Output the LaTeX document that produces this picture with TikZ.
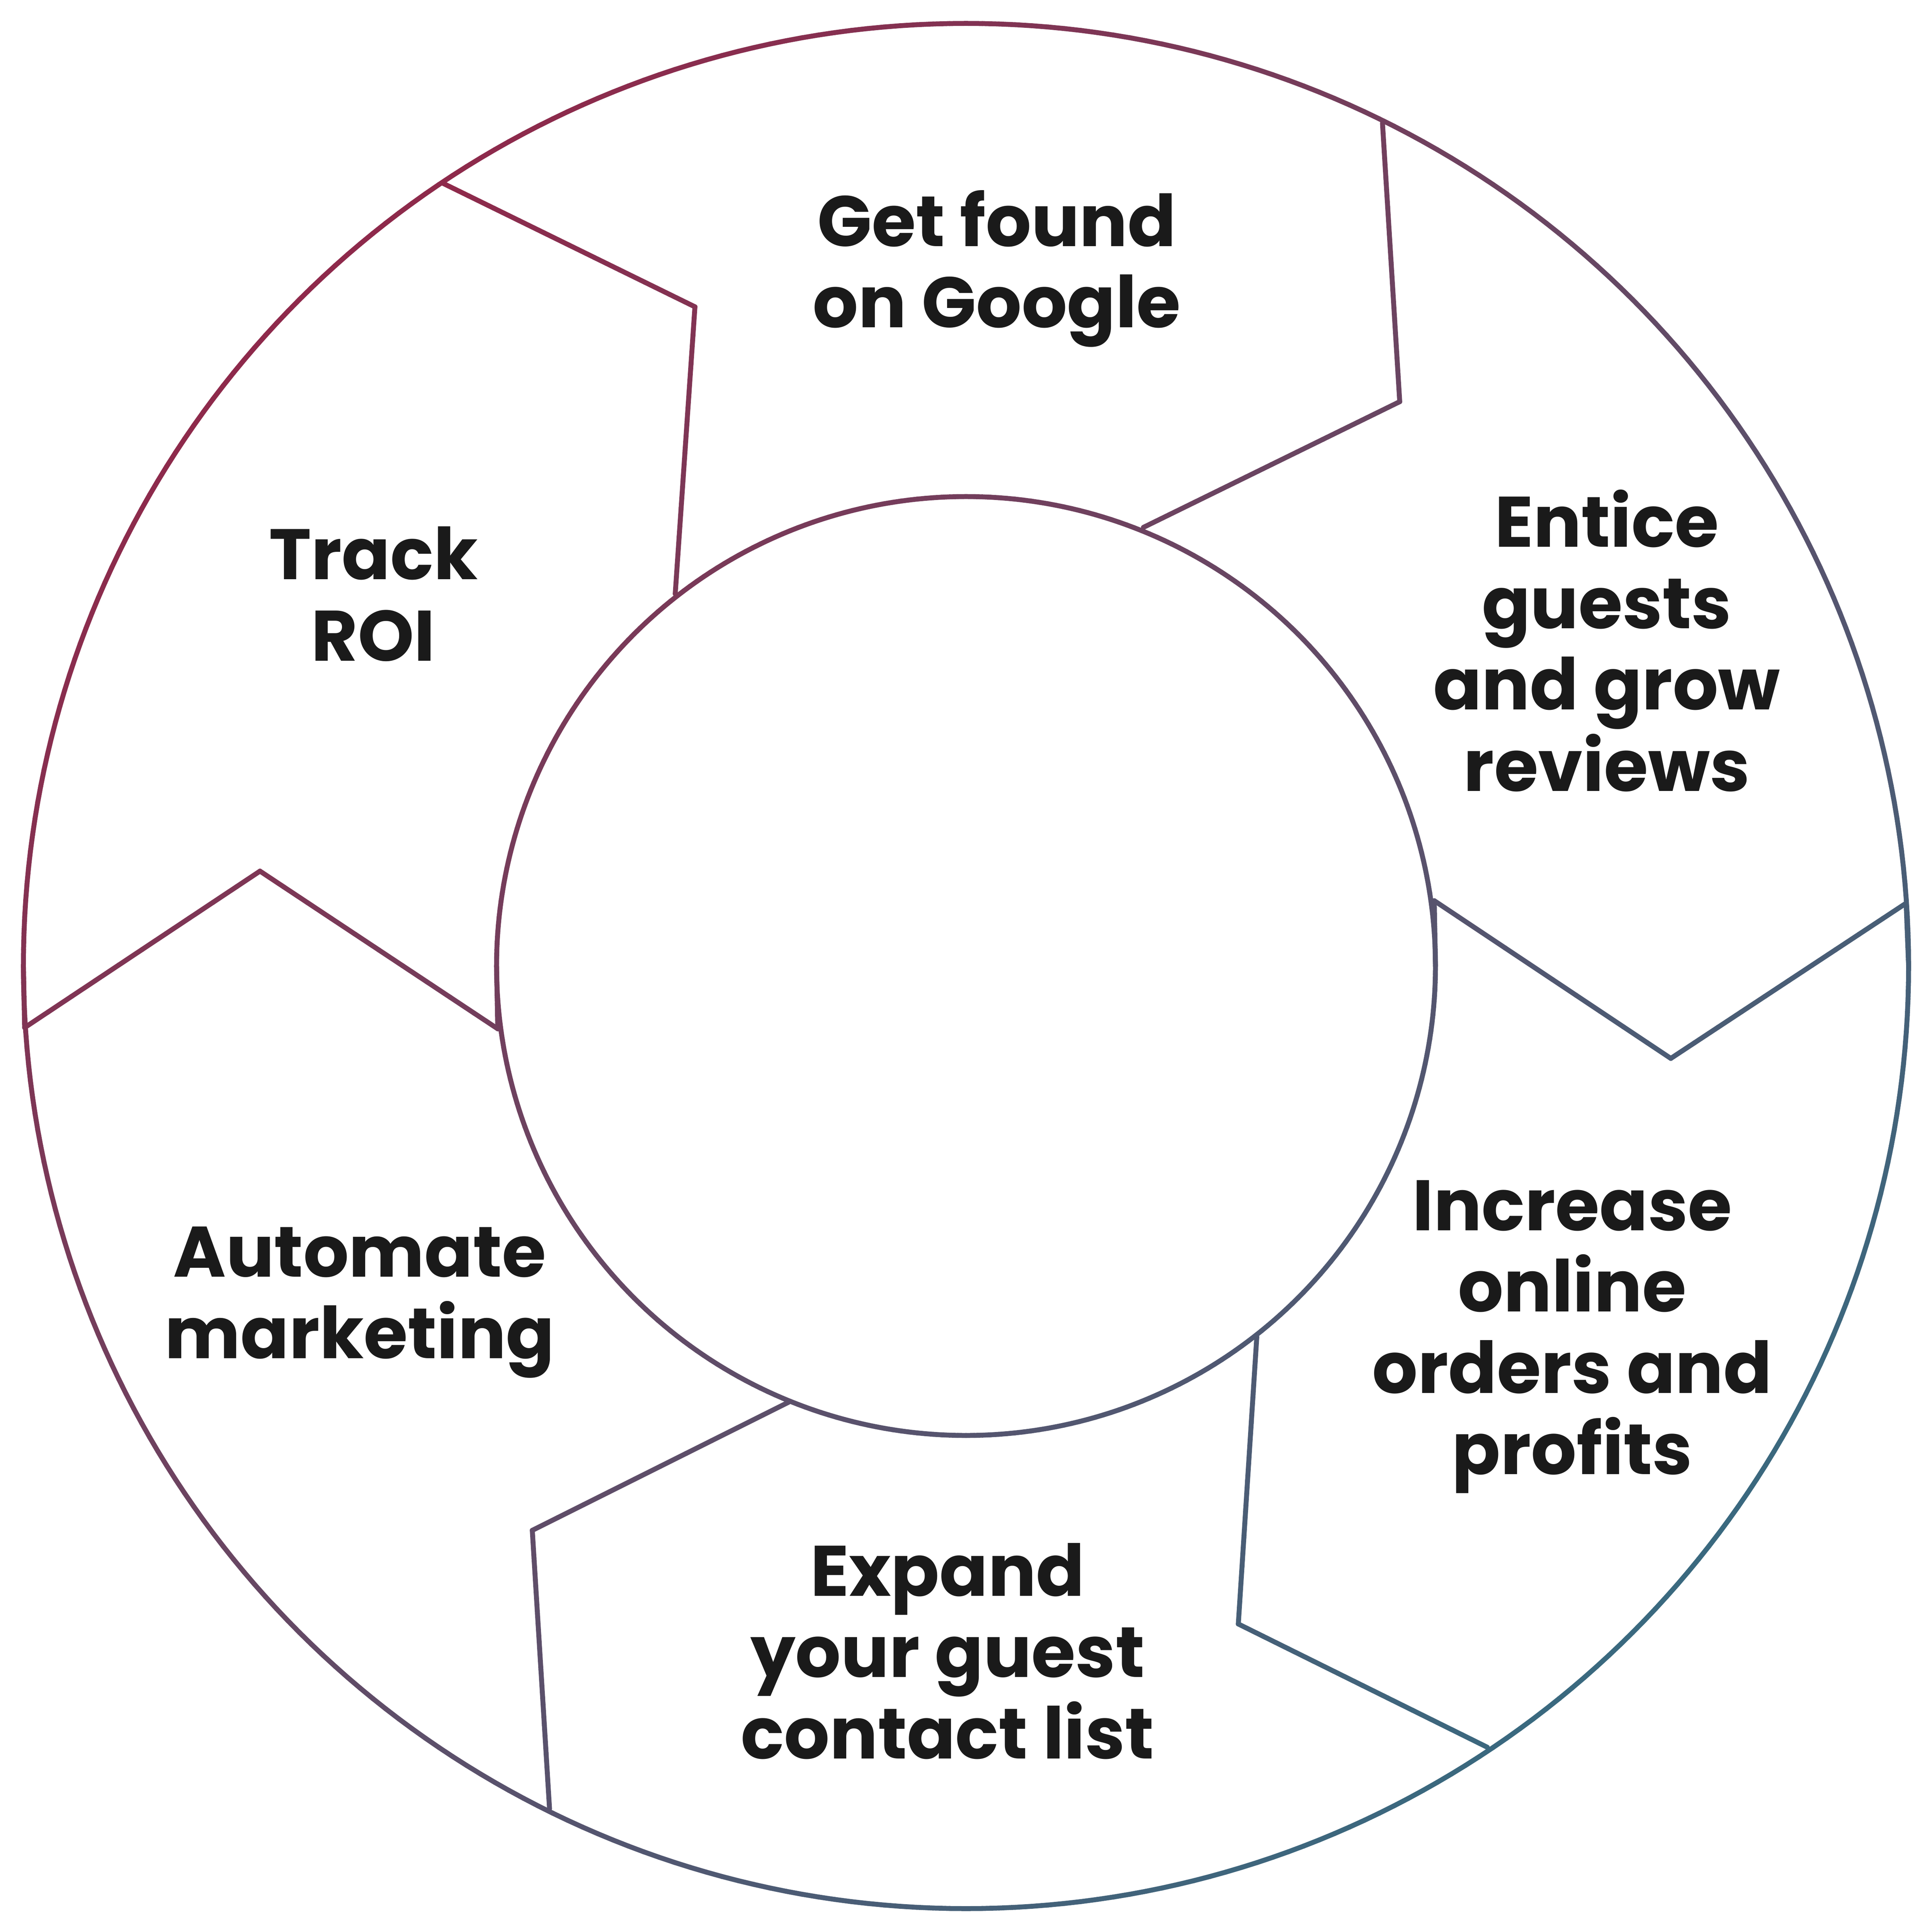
\documentclass[tikz,border=0pt]{standalone}
\usepackage{fontspec}
\setmainfont{Poppins}
\definecolor{cA}{RGB}{160,28,64}
\definecolor{cB}{RGB}{40,118,138}
\definecolor{txt}{RGB}{26,26,26}
\newcommand\tpar[2]{\pgfmathsetmacro\tt{max(0,min(100,(#1+#2-38)/30.6))}}
\newcommand\gseg[4]{%
 \foreach \i in {0,...,9}{%
  \pgfmathsetmacro\xa{#1+(#3-#1)*\i/10}\pgfmathsetmacro\ya{#2+(#4-#2)*\i/10}%
  \pgfmathsetmacro\xb{#1+(#3-#1)*(\i+1)/10}\pgfmathsetmacro\yb{#2+(#4-#2)*(\i+1)/10}%
  \tpar{\xa}{\ya}%
  \draw[ln, cB!\tt!cA] (\xa,\ya) -- (\xb,\yb);}}
\newcommand\gcirc[1]{%
 \foreach \a in {0,...,359}{%
  \pgfmathsetmacro\xa{784+#1*cos(\a)}\pgfmathsetmacro\ya{784+#1*sin(\a)}%
  \pgfmathsetmacro\xb{784+#1*cos(\a+1)}\pgfmathsetmacro\yb{784+#1*sin(\a+1)}%
  \tpar{\xa}{\ya}%
  \draw[ln, cB!\tt!cA] (\xa,\ya) -- (\xb,\yb);}}
\begin{document}
\begin{tikzpicture}[x=1pt,y=-1pt,
 ln/.style={line width=4pt,line cap=round,line join=round},
 lbl/.style={align=center,text=txt,font=\bfseries\fontsize{58}{66}\selectfont}]
\useasboundingbox (0,0) rectangle (1568,1568);
\fill[white] (0,0) rectangle (1568,1568);
\gcirc{765}
\gcirc{381}
% boundaries
\gseg{360}{149}{564}{249}\gseg{564}{249}{548}{482}
\gseg{1122}{100}{1136}{326}\gseg{1136}{326}{928}{428}
\gseg{1547}{733}{1356}{859}\gseg{1356}{859}{1164}{731}
\gseg{1164}{731}{1165}{784}\gseg{1547}{733}{1549}{784}
\gseg{1020}{1085}{1005}{1318}\gseg{1005}{1318}{1207}{1418}
\gseg{640}{1138}{432}{1242}\gseg{432}{1242}{446}{1468}
\gseg{20}{834}{211}{707}\gseg{211}{707}{404}{835}
\gseg{20}{834}{19}{784}\gseg{404}{835}{403}{784}
\node[lbl] (t1) at (809,218) {Get found\\on Google};
\node[lbl] (t2) at (1304,520) {Entice\\guests\\and grow\\reviews};
\node[lbl] (t3) at (1276,1085) {Increase\\online\\orders and\\profits};
\node[lbl] (t4) at (769,1340) {Expand\\your guest\\contact list};
\node[lbl] (t5) at (292,1057) {Automate\\marketing};
\node[lbl] (t6) at (303,482) {Track\\ROI};
\end{tikzpicture}
\end{document}
